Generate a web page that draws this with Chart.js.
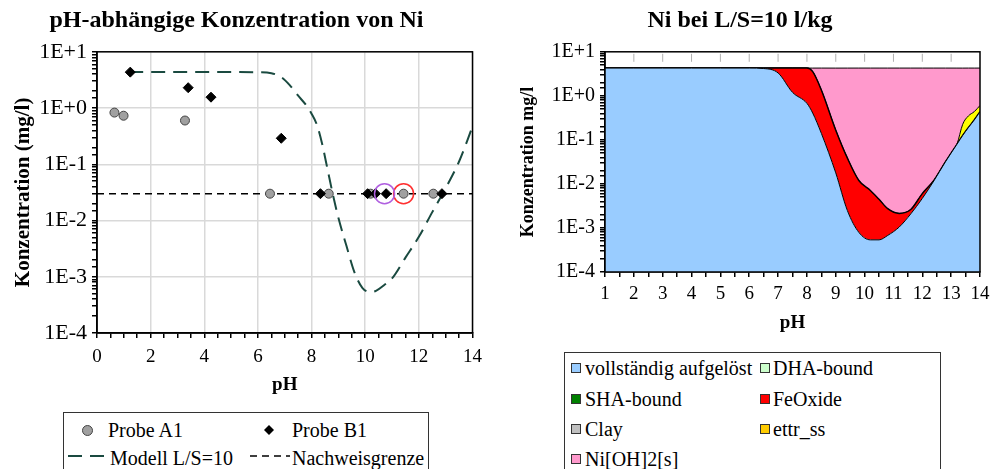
<!DOCTYPE html>
<html>
<head>
<meta charset="utf-8">
<script src="https://cdn.jsdelivr.net/npm/chart.js@4/dist/chart.umd.min.js"></script>
<style>
  body { margin: 0; width: 1001px; height: 469px; overflow: hidden; background: #fff; font-family: "Liberation Serif", "Times New Roman", Tinos, "DejaVu Serif", serif; }
  canvas { position: absolute; }
  .legend { position: absolute; border: 1.5px solid #333; box-sizing: border-box; }
  .legend div, .legend svg { position: absolute; }
  .legend .txt { font-size: 20px; line-height: 24px; white-space: nowrap; color: #000; }
  .legend .sq { width: 10px; height: 10px; border: 1px solid #333; box-sizing: border-box; }
</style>
</head>
<body>
<canvas id="left" width="490" height="400" style="left:0;top:0;width:490px;height:400px"></canvas>
<canvas id="right" width="501" height="340" style="left:500px;top:0;width:501px;height:340px"></canvas>

<div class="legend" style="left:63px;top:412px;width:366px;height:80px">
  <div style="left:18px;top:12px;width:9px;height:9px;border-radius:50%;background:#a0a0a0;border:1px solid #444"></div>
  <div class="txt" style="left:44px;top:5px">Probe A1</div>
  <svg style="left:199px;top:11px" width="12" height="12"><path d="M6 1 L11 6 L6 11 L1 6 Z" fill="#000"/></svg>
  <div class="txt" style="left:228px;top:5px">Probe B1</div>
  <svg style="left:4px;top:40px" width="40" height="6"><line x1="0" y1="3" x2="40" y2="3" stroke="#1a4a40" stroke-width="2" stroke-dasharray="14 8"/></svg>
  <div class="txt" style="left:46px;top:33px">Modell L/S=10</div>
  <svg style="left:186px;top:40px" width="40" height="6"><line x1="0" y1="3" x2="40" y2="3" stroke="#000" stroke-width="1.5" stroke-dasharray="7 5"/></svg>
  <div class="txt" style="left:228px;top:33px">Nachweisgrenze</div>
</div>

<div class="legend" style="left:564px;top:352px;width:377px;height:130px">
  <div class="sq" style="left:6px;top:10px;background:#99ccff"></div>
  <div class="txt" style="left:20px;top:3px">vollständig aufgelöst</div>
  <div class="sq" style="left:195px;top:10px;background:#ccffcc"></div>
  <div class="txt" style="left:208px;top:3px">DHA-bound</div>
  <div class="sq" style="left:6px;top:41px;background:#008000"></div>
  <div class="txt" style="left:20px;top:34px">SHA-bound</div>
  <div class="sq" style="left:195px;top:41px;background:#ff0000"></div>
  <div class="txt" style="left:208px;top:34px">FeOxide</div>
  <div class="sq" style="left:6px;top:71px;background:#c0c0c0"></div>
  <div class="txt" style="left:20px;top:64px">Clay</div>
  <div class="sq" style="left:195px;top:71px;background:#ffcc00"></div>
  <div class="txt" style="left:208px;top:64px">ettr_ss</div>
  <div class="sq" style="left:6px;top:101px;background:#ff99cc"></div>
  <div class="txt" style="left:20px;top:94px">Ni[OH]2[s]</div>
</div>

<script>
// left chart: measured samples + model
const probeA1pH = [0.65, 0.99, 3.28, 6.45, 8.64, 10.2, 11.43, 12.54];
const probeA1 = [0.83, 0.73, 0.6, 0.03, 0.03, 0.03, 0.03, 0.03];
const probeB1pH = [1.24, 3.4, 4.25, 6.87, 8.33, 10.09, 10.38, 10.78, 12.86];
const probeB1 = [4.35, 2.3, 1.56, 0.29, 0.03, 0.03, 0.03, 0.03, 0.03];
const modellPH = [1.2, 2, 3, 4, 5, 6, 6.5, 6.9, 7.2, 7.5, 7.8, 8.0, 8.2, 8.4, 8.6, 8.8, 9.0, 9.3, 9.6, 9.9, 10.2, 10.4, 10.7, 11.0, 11.5, 12.0, 12.5, 12.9, 13.5, 14];
const modell = [4.37, 4.37, 4.37, 4.37, 4.37, 4.32, 4.17, 3.47, 2.51, 1.66, 1.12, 0.794, 0.501, 0.224, 0.0794, 0.0282, 0.0112, 0.00355, 0.0012, 0.00063, 0.000537, 0.000562, 0.000708, 0.000933, 0.00219, 0.00513, 0.0141, 0.0309, 0.112, 0.468];
const grenzePH = [0, 14];
const grenze = [0.03, 0.03];
const markPurplePH = [10.72];
const markRedPH = [11.43];
const markY = [0.03];

// right chart: speciation at L/S=10 (1e-6 = practically nothing, log axis can't take 0)
const phR = [1, 2, 3, 4, 5, 6, 6.5, 7, 7.5, 8, 8.2, 8.5, 9, 9.4, 9.8, 10.2, 10.5, 10.8, 11.2, 11.6, 12, 12.4, 12.8, 13.2, 13.4, 13.6, 13.8, 14];
const geloest = [4.27, 4.27, 4.27, 4.27, 4.27, 4.27, 4.17, 3.31, 1.2, 0.676, 0.407, 0.141, 0.0178, 0.00251, 0.000794, 0.000537, 0.000537, 0.000676, 0.00105, 0.00209, 0.00468, 0.0117, 0.0316, 0.0794, 0.126, 0.191, 0.282, 0.437];
const feOxide = [1e-6, 1e-6, 1e-6, 1e-6, 1e-6, 1e-6, 0.1, 0.96, 3.07, 3.59, 3.14, 1.21, 0.148, 0.0364, 0.0112, 0.00654, 0.00393, 0.00207, 0.00109, 0.00054, 0.00135, 0.0003, 1e-6, 1e-6, 1e-6, 1e-6, 1e-6, 1e-6];
const ettrSS = [1e-6, 1e-6, 1e-6, 1e-6, 1e-6, 1e-6, 1e-6, 1e-6, 1e-6, 1e-6, 1e-6, 1e-6, 1e-6, 1e-6, 1e-6, 1e-6, 1e-6, 1e-6, 1e-6, 1e-6, 1e-6, 1e-6, 1e-6, 1e-6, 0.1, 0.16, 0.155, 0.166];
const niOH2 = [1e-6, 1e-6, 1e-6, 1e-6, 1e-6, 1e-6, 1e-6, 1e-6, 1e-6, 1e-6, 0.72, 2.92, 4.1, 4.23, 4.258, 4.263, 4.266, 4.267, 4.268, 4.267, 4.264, 4.258, 4.238, 4.19, 4.04, 3.92, 3.83, 3.67];

const serif = '"Liberation Serif", "Times New Roman", Tinos, "DejaVu Serif", serif';
const xy = (xs, ys) => xs.map((x, i) => ({ x, y: ys[i] }));

const isDecade = v => Math.abs(Math.log10(v) - Math.round(Math.log10(v))) < 1e-6;
const decadeLabel = v => {
    if (!isDecade(v)) return '';
    const e = Math.round(Math.log10(v));
    return '1E' + (e >= 0 ? '+' : '-') + Math.abs(e);
};

const frame = {
    id: 'frame',
    afterDraw(chart, args, opts) {
        const { ctx, chartArea: a } = chart;
        ctx.save();
        ctx.strokeStyle = '#000';
        ctx.lineWidth = 1.5;
        ctx.strokeRect(a.left, a.top, a.right - a.left, a.bottom - a.top);
        if (opts.topTicks) {
            const x = chart.scales.x;
            ctx.strokeStyle = '#b0b0b0';
            ctx.lineWidth = 1;
            for (let v = x.min + 1; v < x.max; v++) {
                const px = x.getPixelForValue(v);
                ctx.beginPath();
                ctx.moveTo(px, a.top + 2);
                ctx.lineTo(px, a.top + 10);
                ctx.stroke();
            }
        }
        ctx.restore();
    }
};

Chart.defaults.font.family = serif;
Chart.defaults.color = '#000';
Chart.defaults.animation = false;

function titleOpts(text) {
    return {
        display: true,
        text,
        font: { size: 24, weight: 'bold' },
        padding: { top: 6, bottom: 17 }
    };
}

new Chart(document.getElementById('left'), {
    type: 'scatter',
    data: {
        datasets: [
            {
                label: 'markPurple',
                data: xy(markPurplePH, markY),
                pointRadius: 10,
                pointBackgroundColor: 'transparent',
                pointBorderColor: '#b060e0',
                pointBorderWidth: 1.5,
                order: 0
            },
            {
                label: 'markRed',
                data: xy(markRedPH, markY),
                pointRadius: 10,
                pointBackgroundColor: 'transparent',
                pointBorderColor: '#ff3030',
                pointBorderWidth: 1.5,
                order: 0
            },
            {
                label: 'Probe A1',
                data: xy(probeA1pH, probeA1),
                pointRadius: 4.5,
                pointBackgroundColor: '#a0a0a0',
                pointBorderColor: '#444',
                pointBorderWidth: 1,
                order: 2
            },
            {
                label: 'Probe B1',
                data: xy(probeB1pH, probeB1),
                pointStyle: 'rectRot',
                pointRadius: 5,
                pointBackgroundColor: '#000',
                pointBorderColor: '#000',
                order: 1
            },
            {
                label: 'Modell L/S=10',
                data: xy(modellPH, modell),
                showLine: true,
                pointRadius: 0,
                borderColor: '#1a4a40',
                borderWidth: 2,
                borderDash: [14, 8],
                cubicInterpolationMode: 'monotone',
                order: 3
            },
            {
                label: 'Nachweisgrenze',
                data: xy(grenzePH, grenze),
                showLine: true,
                pointRadius: 0,
                borderColor: '#000',
                borderWidth: 1.5,
                borderDash: [7, 5],
                order: 4
            }
        ]
    },
    options: {
        responsive: false,
        layout: { padding: { left: 0, right: 17, top: 0, bottom: 0 } },
        plugins: {
            legend: { display: false },
            tooltip: { enabled: false },
            title: titleOpts('pH-abhängige Konzentration von Ni'),
            frame: {}
        },
        scales: {
            x: {
                type: 'linear',
                min: 0,
                max: 14,
                afterBuildTicks: s => {
                    s.ticks = [];
                    for (let v = 0; v <= 28; v++) s.ticks.push({ value: v / 2 });
                },
                ticks: {
                    autoSkip: false,
                    maxRotation: 0,
                    padding: 8,
                    font: { size: 19 },
                    callback: v => (v % 2 === 0 ? v : '')
                },
                grid: {
                    color: c => (c.tick && c.tick.value % 2 === 0 ? '#d9d9d9' : 'transparent'),
                    lineWidth: 1.5,
                    tickColor: '#000',
                    tickLength: 5
                },
                border: { color: '#000', width: 1.5 },
                title: { display: true, text: 'pH', font: { size: 19, weight: 'bold' }, padding: { top: 0, bottom: 4 } },
                afterFit: s => { s.height = 67; }
            },
            y: {
                type: 'logarithmic',
                min: 1e-4,
                max: 10,
                ticks: {
                    autoSkip: false,
                    padding: 5,
                    font: { size: 22 },
                    callback: decadeLabel
                },
                grid: {
                    color: c => (c.tick && isDecade(c.tick.value) ? '#d9d9d9' : 'transparent'),
                    lineWidth: 1.5,
                    tickColor: '#000',
                    tickLength: 5
                },
                border: { color: '#000', width: 1.5 },
                title: { display: true, text: 'Konzentration (mg/l)', font: { size: 21, weight: 'bold' }, padding: { top: 11, bottom: 0 } },
                afterFit: s => { s.width = 97; }
            }
        }
    },
    plugins: [frame]
});

function layer(label, values, bg, fill, width) {
    return {
        label,
        data: xy(phR, values),
        backgroundColor: bg,
        borderColor: '#000',
        borderWidth: width,
        pointRadius: 0,
        fill,
        cubicInterpolationMode: 'monotone'
    };
}

new Chart(document.getElementById('right'), {
    type: 'line',
    data: {
        datasets: [
            layer('vollständig aufgelöst', geloest, '#99ccff', 'start', 1),
            layer('FeOxide', feOxide, '#ff0000', '-1', 1.5),
            layer('ettr_ss', ettrSS, '#ffff00', '-1', 1),
            layer('Ni[OH]2[s]', niOH2, '#ff99cc', '-1', 1)
        ]
    },
    options: {
        responsive: false,
        layout: { padding: { left: 0, right: 21, top: 0, bottom: 0 } },
        plugins: {
            legend: { display: false },
            tooltip: { enabled: false },
            title: titleOpts('Ni bei L/S=10 l/kg'),
            frame: { topTicks: true }
        },
        scales: {
            x: {
                type: 'linear',
                min: 1,
                max: 14,
                afterBuildTicks: s => {
                    s.ticks = [];
                    for (let v = 2; v <= 28; v++) s.ticks.push({ value: v / 2 });
                },
                ticks: {
                    autoSkip: false,
                    maxRotation: 0,
                    padding: 6,
                    font: { size: 19 },
                    callback: v => (Number.isInteger(v) ? v : '')
                },
                grid: { drawOnChartArea: false, tickColor: '#000', tickLength: 5, lineWidth: 1.5 },
                border: { color: '#000', width: 1.5 },
                title: { display: true, text: 'pH', font: { size: 19, weight: 'bold' }, padding: { top: 0, bottom: 6 } },
                afterFit: s => { s.height = 68; }
            },
            y: {
                type: 'logarithmic',
                stacked: true,
                min: 1e-4,
                max: 10,
                ticks: {
                    autoSkip: false,
                    padding: 5,
                    font: { size: 20 },
                    callback: decadeLabel
                },
                grid: { drawOnChartArea: false, tickColor: '#000', tickLength: 5, lineWidth: 1.5 },
                border: { color: '#000', width: 1.5 },
                title: { display: true, text: 'Konzentration mg/l', font: { size: 18, weight: 'bold' }, padding: { top: 18, bottom: 0 } },
                afterFit: s => { s.width = 105; }
            }
        }
    },
    plugins: [frame]
});
</script>
</body>
</html>
